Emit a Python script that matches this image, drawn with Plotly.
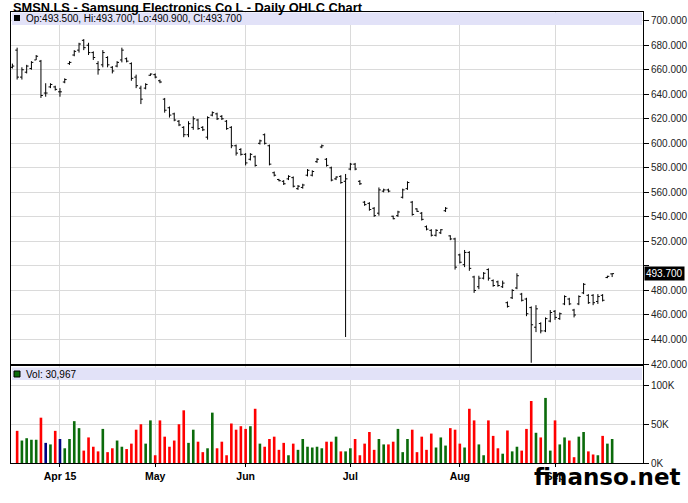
import plotly.graph_objects as go

# ---------------- data ----------------
title_text = "SMSN.LS - Samsung Electronics Co L - Daily OHLC Chart"
month_tick_idx = [10, 30, 49, 71, 94, 114]
month_tick_labels = ["Apr 15", "May", "Jun", "Jul", "Aug", "Sep"]
price_tick_vals = [420, 440, 460, 480, 500, 520, 540, 560, 580, 600, 620, 640, 660, 680, 700]
price_tick_text = ["420.000", "440.000", "460.000", "480.000", "", "520.000", "540.000",
                   "560.000", "580.000", "600.000", "620.000", "640.000", "660.000",
                   "680.000", "700.000"]
vol_tick_vals = [0, 50000, 100000]
vol_tick_text = ["0K", "50K", "100K"]

opens = [
    662, 676, 654, 658, 661, 668, 667, 641, 646, 646,
    642, 650, 665, 672, 676, 684, 680, 674, 665, 664,
    670, 662, 663, 668, 669, 665, 654, 645, 645, 655.5,
    656, 651, 636, 629, 624, 618, 613, 607, 613, 619,
    613, 605, 623, 624, 622, 618, 613, 598, 595, 591,
    587, 589, 600, 607, 598, 576, 570.5, 569, 571, 572,
    563, 564, 574, 574, 585, 597, 587, 580, 571, 573,
    569, 579, 583, 569, 552, 551, 547, 543, 561, 562,
    540.5, 541, 556, 563, 552, 546.5, 543, 532, 529, 525,
    527, 545, 524.5, 522, 509, 501, 511, 491, 483, 490,
    497, 488, 487, 483, 470, 474, 482, 477, 473, 466,
    450, 453, 447, 455, 463, 457, 469, 473, 464, 469,
    478, 476, 476, 471, 476, 490.5, 493.5,
]
highs = [
    665, 678, 662, 664, 667, 672, 668, 649, 649, 647,
    645, 653, 667, 676, 682, 685, 682, 675, 667, 676,
    671, 663, 667, 678, 670, 666, 656, 647, 649, 657,
    657, 652, 637, 630, 625, 619, 614, 618, 622, 620,
    614, 622, 626, 625, 623, 619, 614, 599, 596, 592,
    592, 590, 603, 608, 599, 577, 571, 570, 574, 573,
    566, 567, 579, 578, 588, 599, 588, 581, 573, 574,
    575, 584, 584, 570, 553, 552, 548, 564, 563, 563,
    541, 545, 563, 569, 553, 547, 544, 533, 530, 530,
    530, 548, 525, 523, 510, 513, 512, 492, 492, 495,
    498, 489, 488, 488, 471, 481, 494, 478, 474, 467,
    468, 454, 458, 464, 464, 462, 476, 474, 465, 476,
    486, 477, 477, 477, 477, 492, 493.7,
]
lows = [
    661, 652, 652, 657, 660, 668, 637, 638, 645, 643,
    638, 649, 664, 671, 674, 676, 672, 668, 656, 662,
    662, 657, 662, 666, 666, 651, 645, 632, 644, 655,
    653, 649, 625, 621, 618, 614, 605, 605, 611, 611,
    610, 603, 622, 619, 619, 611, 596, 590, 590, 582,
    586, 581, 599, 599, 582, 573, 569, 566, 570, 564,
    562, 563, 573, 573, 584, 596, 581, 569, 570, 567,
    442, 578, 578, 566, 549, 545, 540, 541, 560, 560,
    538, 540, 555, 562, 541, 544, 537, 529, 524, 524,
    526, 544, 521, 497, 502, 499, 496, 478, 481, 489,
    488, 483, 483, 482, 466, 473, 481, 471, 459, 421,
    446, 445, 446, 454, 456, 456, 468, 468, 458, 468,
    477, 469, 468, 469, 471, 490, 490.9,
]
closes = [
    663, 654, 660, 663, 666, 671, 639, 641, 648, 644,
    642, 652, 666, 675, 681, 678, 674, 670, 660, 674,
    664, 659, 666, 676, 667, 653, 647, 636, 648, 656.5,
    654, 650, 627, 623, 619, 615, 607, 616, 620, 612,
    611, 621, 625, 620, 620, 612, 598, 592, 591, 584,
    591, 582, 602, 600, 583, 574, 569.5, 567, 573, 565,
    565, 566, 578, 577, 587, 598, 582, 570, 572.5, 568,
    571, 583, 579, 567, 550, 546, 541, 562, 562, 561,
    538.5, 544, 562, 568, 542, 544.5, 538, 530, 525, 529,
    529.5, 547, 522, 499, 503, 511, 498, 480, 490, 494,
    490, 484, 484, 486, 467, 480, 492, 472, 461, 452,
    465, 447, 457, 462, 458, 461, 475, 469, 460, 475,
    485, 470, 470, 475, 472, 491.5, 493.7,
]
volumes = [
    None, 41500, 29000, 32000, 30000, 30000, 58500, 26000, 24000, 41500,
    31000, 19000, 31000, 54000, 45000, 16000, 33000, 21000, 15000, 44000,
    14000, 19000, 29000, 21000, 18000, 25000, 43000, 50000, 25000, 55000,
    10000, 55000, 34000, 21000, 29000, 50000, 68000, 26000, 43000, 27500,
    14000, 19000, 65000, 19000, 27500, 10000, 51000, 43000, 47500, 44000,
    47500, 70000, 25000, 21000, 31000, 34000, 17000, 26000, 10000, 25000,
    17000, 31000, 21000, 20000, 21000, 19000, 27500, 27500, 34000, 15000,
    15000, 19000, 31000, 10000, 25000, 40000, 17000, 31000, 24000, 24000,
    27500, 44000, 14000, 31000, 43000, 14000, 34000, 17000, 38000, 20000,
    33000, 22500, 45000, 43000, 25000, 20000, 70000, 55000, 24000, 10000,
    55000, 35000, 19000, 12000, 42000, 15000, 21000, 16000, 44000, 80000,
    39000, 33000, 84000, 16000, 55000, 24000, 33000, 29000, 7500, 34000,
    40000, 15000, 11000, 10000, 35000, 25000, 30967,
]

# ---------------- figure ----------------
idx = list(range(len(closes)))
UP, DOWN, FLAT = "#0b6b0b", "#ff0000", "#000080"
vol_colors = [UP if c > o else (DOWN if c < o else FLAT) for o, c in zip(opens, closes)]

W, H = 688, 503
ML, MR, MT, MB = 11, 45, 12, 40
PW, PH = W - ML - MR, H - MT - MB


def px_x(x):
    return (x - ML) / PW


def px_y(y):
    return (H - MB - y) / PH


price_dom = [px_y(364), 1]
vol_dom = [0, px_y(366)]

fig = go.Figure()
fig.add_trace(go.Ohlc(
    x=idx, open=opens, high=highs, low=lows, close=closes,
    increasing=dict(line=dict(color="black", width=1)),
    decreasing=dict(line=dict(color="black", width=1)),
    tickwidth=0.4, xaxis="x2", yaxis="y", hoverinfo="skip",
))
fig.add_trace(go.Bar(
    x=idx, y=volumes, marker=dict(color=vol_colors, line=dict(width=0)),
    width=0.55, xaxis="x", yaxis="y2", hoverinfo="skip",
))

GRID = "#dadada"
AX_FONT = dict(family="Liberation Sans, Arial, sans-serif", size=10, color="#222222")
xr = [-0.29, 132.48]

fig.update_layout(
    template="none",
    width=W, height=H, margin=dict(l=ML, r=MR, t=MT, b=MB, pad=0, autoexpand=False),
    paper_bgcolor="white", plot_bgcolor="white", showlegend=False,
    xaxis=dict(
        domain=[0, 1], anchor="y2", range=xr, automargin=False,
        tickvals=month_tick_idx, ticktext=["<b>%s</b>" % t for t in month_tick_labels],
        ticks="outside", ticklen=3, tickcolor="black",
        tickfont=dict(family="Liberation Sans, Arial, sans-serif", size=10.5, color="black"),
        showgrid=True, gridcolor=GRID, gridwidth=1,
        showline=True, linecolor="black", linewidth=1, mirror=True,
        zeroline=False, rangeslider=dict(visible=False),
    ),
    xaxis2=dict(
        domain=[0, 1], anchor="y", range=xr, matches="x", automargin=False,
        tickvals=month_tick_idx, showticklabels=False, ticks="",
        showgrid=True, gridcolor=GRID, gridwidth=1,
        showline=True, linecolor="black", linewidth=1, mirror=True,
        zeroline=False, rangeslider=dict(visible=False),
    ),
    yaxis=dict(
        domain=price_dom, anchor="x2", side="right", range=[420, 707.1], automargin=False,
        tickvals=price_tick_vals, ticktext=price_tick_text,
        ticks="outside", ticklen=5, tickcolor="black", tickfont=AX_FONT,
        showgrid=True, gridcolor=GRID, gridwidth=1,
        showline=True, linecolor="black", linewidth=1, mirror=True,
        zeroline=False,
    ),
    yaxis2=dict(
        domain=vol_dom, anchor="x", side="right", range=[0, 125200], automargin=False,
        tickvals=vol_tick_vals, ticktext=vol_tick_text,
        ticks="outside", ticklen=5, tickcolor="black", tickfont=AX_FONT,
        showgrid=True, gridcolor=GRID, gridwidth=1,
        showline=True, linecolor="black", linewidth=1, mirror=True,
        zeroline=False,
    ),
)

BAND = "#e2e2f8"
shapes = [
    dict(type="rect", xref="paper", yref="paper", x0=px_x(12), x1=px_x(642),
         y0=px_y(25), y1=px_y(12.5), fillcolor=BAND, line=dict(width=0), layer="above"),
    dict(type="rect", xref="paper", yref="paper", x0=px_x(12), x1=px_x(642),
         y0=px_y(380), y1=px_y(367.5), fillcolor=BAND, line=dict(width=0), layer="above"),
    dict(type="rect", xref="paper", yref="paper", x0=px_x(14), x1=px_x(20),
         y0=px_y(21), y1=px_y(15), fillcolor="black", line=dict(width=0), layer="above"),
    dict(type="rect", xref="paper", yref="paper", x0=px_x(14), x1=px_x(20),
         y0=px_y(377), y1=px_y(371), fillcolor=UP, line=dict(color="black", width=1), layer="above"),
    dict(type="line", xref="paper", yref="paper", x0=0, x1=1,
         y0=px_y(365), y1=px_y(365), line=dict(color="black", width=2), layer="above"),
]
fig.update_layout(shapes=shapes)

LEG_FONT = dict(family="Liberation Sans, Arial, sans-serif", size=10, color="black")
last_o, last_h, last_l, last_c = opens[-1], highs[-1], lows[-1], closes[-1]
annotations = [
    dict(text="<b>%s</b>" % title_text, xref="paper", yref="paper",
         x=px_x(11), y=px_y(7.5), xanchor="left", yanchor="middle", showarrow=False,
         font=dict(family="Liberation Sans, Arial, sans-serif", size=12.8, color="black")),
    dict(text="Op:%.3f, Hi:%.3f, Lo:%.3f, Cl:%.3f" % (last_o, last_h, last_l, last_c),
         xref="paper", yref="paper", x=px_x(24), y=px_y(18.5),
         xanchor="left", yanchor="middle", showarrow=False, font=LEG_FONT),
    dict(text="Vol: {:,}".format(volumes[-1]), xref="paper", yref="paper",
         x=px_x(24), y=px_y(374), xanchor="left", yanchor="middle",
         showarrow=False, font=LEG_FONT),
    dict(text="%.3f" % last_c, xref="paper", yref="y", x=1, y=last_c,
         xanchor="left", yanchor="middle", xshift=1, showarrow=False,
         bgcolor="black", borderpad=1,
         font=dict(family="Liberation Sans, Arial, sans-serif", size=10, color="white")),
    dict(text="<b>finanso.net</b>", xref="paper", yref="paper",
         x=px_x(607), y=px_y(477), xanchor="center", yanchor="middle",
         showarrow=False,
         font=dict(family="DejaVu Sans, sans-serif", size=23, color="black")),
]
fig.update_layout(annotations=annotations)

fig.write_html(
    "out.html",
    config={"displayModeBar": False},
    post_script="document.body.style.margin='0';document.body.style.overflow='hidden';",
)
